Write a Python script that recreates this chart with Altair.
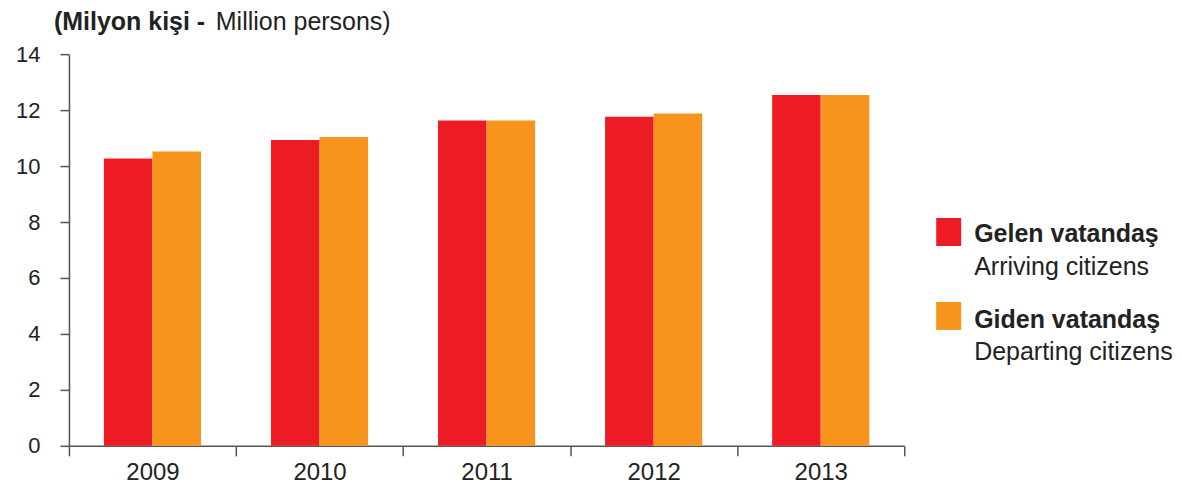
import altair as alt
import pandas as pd

years = ["2009", "2010", "2011", "2012", "2013"]
arriving = [10.27, 10.93, 11.63, 11.76, 12.54]
departing = [10.52, 11.04, 11.63, 11.88, 12.54]
series_names = ["Gelen vatandaş", "Giden vatandaş"]
series_sub = ["Arriving citizens", "Departing citizens"]
colors = ["#ED1C24", "#F7941D"]
y_ticks = [0, 2, 4, 6, 8, 10, 12, 14]

rows = []
for i, y in enumerate(years):
    rows.append({"year": y, "series": series_names[0], "value": arriving[i]})
    rows.append({"year": y, "series": series_names[1], "value": departing[i]})
df = pd.DataFrame(rows)

FONT = "Liberation Sans"
W, H = 836, 392

bars = alt.Chart(df).mark_bar(stroke=None).encode(
    x=alt.X("year:N", sort=years,
            scale=alt.Scale(paddingInner=0, paddingOuter=0),
            axis=alt.Axis(title=None, labelAngle=0, tickBand="extent",
                          tickSize=10, labelFontSize=24, labelFont=FONT,
                          labelColor="#222", labelPadding=5,
                          domainColor="#555", tickColor="#555",
                          domainWidth=1.5, tickWidth=1.5)),
    xOffset=alt.XOffset("series:N", sort=series_names,
                        scale=alt.Scale(paddingInner=0, paddingOuter=0.72)),
    y=alt.Y("value:Q",
            scale=alt.Scale(domain=[0, 14], nice=False, zero=True),
            axis=alt.Axis(title=None, values=y_ticks, grid=False, tickSize=9,
                          labelFontSize=22, labelFont=FONT, labelColor="#222",
                          labelPadding=20, domainColor="#555", tickColor="#555",
                          domainWidth=1.5, tickWidth=1.5)),
    color=alt.Color("series:N", sort=series_names,
                    scale=alt.Scale(domain=series_names, range=colors),
                    legend=None),
)

one = pd.DataFrame({"a": [0]})

def txt(s, x, y, bold=False, size=25):
    return alt.Chart(one).mark_text(
        text=s, align="left", baseline="middle", font=FONT, fontSize=size,
        fontWeight="bold" if bold else "normal", color="#222"
    ).encode(x=alt.value(x), y=alt.value(y))

def sq(y0, color):
    return alt.Chart(one).mark_rect(color=color).encode(
        x=alt.value(868), x2=alt.value(893), y=alt.value(y0), y2=alt.value(y0 + 28))

layers = [
    bars,
    txt("(Milyon kişi -", -15, -32, bold=True),
    txt("Million persons)", 147, -32),
    sq(164, colors[0]),
    sq(248, colors[1]),
    txt(series_names[0], 906, 180, bold=True),
    txt(series_sub[0], 906, 213),
    txt(series_names[1], 906, 266, bold=True),
    txt(series_sub[1], 906, 298),
]

chart = alt.layer(*layers).properties(
    width=W, height=H,
    background="white",
    autosize=alt.AutoSizeParams(type="none"),
    padding={"left": 61, "top": 46, "right": 270, "bottom": 40},
).configure_view(stroke=None)

chart.save("out.html", embed_options={"renderer": "svg", "actions": False})
